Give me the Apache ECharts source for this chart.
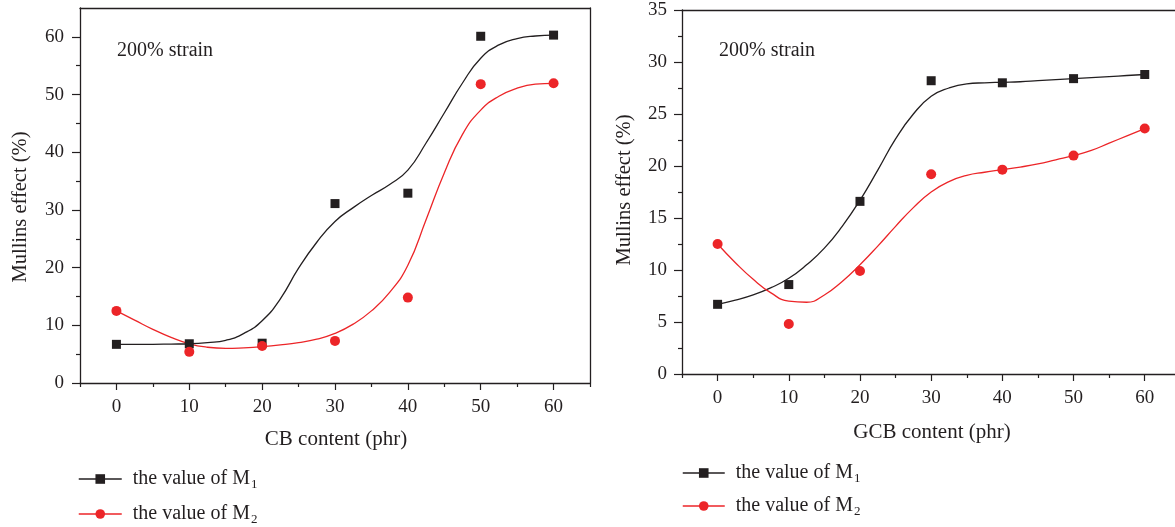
<!DOCTYPE html>
<html>
<head>
<meta charset="utf-8">
<script src="https://cdn.jsdelivr.net/npm/echarts@6/dist/echarts.min.js"></script>
<style>
  html, body { margin: 0; padding: 0; background: #fff; }
  #chart { width: 1175px; height: 527px; }
</style>
</head>
<body>
<div id="chart"></div>
<script>
// measured points (phr content vs Mullins effect %)
const content = [0, 10, 20, 30, 40, 50, 60];
const cbM1 = [6.7, 6.8, 6.9, 31.1, 32.9, 60.1, 60.3];
const cbM2 = [12.5, 5.4, 6.4, 7.3, 14.8, 51.8, 51.95];
const gcbM1 = [6.7, 8.6, 16.6, 28.2, 28.0, 28.4, 28.8];
const gcbM2 = [12.5, 4.8, 9.9, 19.2, 19.65, 21.0, 23.6];

// fitted curves, every 2.5 phr
const fitX = [0, 2.5, 5, 7.5, 10, 12.5, 15, 17.5, 20, 22.5, 25, 27.5, 30,
  32.5, 35, 37.5, 40, 42.5, 45, 47.5, 50, 52.5, 55, 57.5, 60];
const cbFitM1 = [6.7, 6.7, 6.7, 6.75, 6.8, 7.0, 7.4, 8.6, 10.8, 14.6, 19.9, 24.4, 28.0,
  30.4, 32.5, 34.4, 36.9, 41.6, 46.8, 52.0, 56.3, 58.6, 59.7, 60.15, 60.3];
const cbFitM2 = [12.5, 10.9, 9.3, 7.9, 6.8, 6.2, 6.0, 6.1, 6.3, 6.6, 7.0, 7.6, 8.6,
  10.2, 12.5, 15.7, 20.4, 28.3, 36.4, 43.1, 47.3, 49.7, 51.1, 51.8, 51.95];
const gcbFitM1 = [6.7, 7.1, 7.6, 8.3, 9.2, 10.5, 12.1, 14.2, 16.7, 19.6, 22.6, 25.0, 26.7,
  27.5, 27.9, 28.0, 28.05, 28.1, 28.2, 28.3, 28.4, 28.5, 28.6, 28.7, 28.8];
const gcbFitM2 = [12.5, 10.7, 9.1, 7.8, 7.0, 6.9, 7.6, 8.9, 10.5, 12.3, 14.2, 16.0, 17.5,
  18.5, 19.1, 19.4, 19.65, 19.9, 20.2, 20.6, 21.0, 21.5, 22.2, 22.9, 23.6];

// tick positions
const xMajor = [0, 10, 20, 30, 40, 50, 60];
const xMinor = [-5, 5, 15, 25, 35, 45, 55, 65];
const cbYMajor = [0, 10, 20, 30, 40, 50, 60];
const cbYMinor = [5, 15, 25, 35, 45, 55];
const gcbYMajor = [0, 5, 10, 15, 20, 25, 30, 35];
const gcbYMinor = [2.5, 7.5, 12.5, 17.5, 22.5, 27.5, 32.5];

const nameM1 = 'the value of M1';
const nameM2 = 'the value of M2';

const ink = '#231f20';
const red = '#ec2528';
const font = 'Liberation Serif';

const pairs = (xs, ys) => xs.map((x, i) => [x, ys[i]]);

let myChart = echarts.init(document.getElementById('chart'));

function mainX(grid, min, max) {
  return {
    type: 'value', gridIndex: grid, min: min, max: max, position: 'bottom',
    axisLine: { show: true, onZero: false, lineStyle: { color: ink, width: 1.3 } },
    axisTick: { show: true, length: 7, customValues: xMajor, lineStyle: { color: ink, width: 1.2 } },
    axisLabel: { customValues: xMajor, margin: 15, color: ink, fontSize: 19, fontFamily: font },
    splitLine: { show: false }
  };
}
function minorX(grid, min, max) {
  return {
    type: 'value', gridIndex: grid, min: min, max: max, position: 'bottom',
    axisLine: { show: false, onZero: false },
    axisTick: { show: true, length: 4, customValues: xMinor.filter(v => v <= max), lineStyle: { color: ink, width: 1.2 } },
    axisLabel: { show: false },
    splitLine: { show: false }
  };
}
function frameX(grid, min, max) {
  return {
    type: 'value', gridIndex: grid, min: min, max: max, position: 'top',
    axisLine: { show: true, onZero: false, lineStyle: { color: ink, width: 1.3 } },
    axisTick: { show: false }, axisLabel: { show: false }, splitLine: { show: false }
  };
}
function mainY(grid, min, max, labels, margin) {
  return {
    type: 'value', gridIndex: grid, min: min, max: max, position: 'left',
    axisLine: { show: true, onZero: false, lineStyle: { color: ink, width: 1.3 } },
    axisTick: { show: true, length: 8, customValues: labels, lineStyle: { color: ink, width: 1.2 } },
    axisLabel: { customValues: labels, margin: margin, color: ink, fontSize: 19, fontFamily: font },
    splitLine: { show: false }
  };
}
function minorY(grid, min, max, ticks) {
  return {
    type: 'value', gridIndex: grid, min: min, max: max, position: 'left',
    axisLine: { show: false, onZero: false },
    axisTick: { show: true, length: 4, customValues: ticks, lineStyle: { color: ink, width: 1.2 } },
    axisLabel: { show: false },
    splitLine: { show: false }
  };
}

function pointSeries(name, data, xi, yi, isM1) {
  return {
    name: name, type: 'line', xAxisIndex: xi, yAxisIndex: yi, data: data,
    symbol: isM1 ? 'rect' : 'circle', symbolSize: isM1 ? 9 : 10, showSymbol: true,
    itemStyle: { color: isM1 ? ink : red },
    lineStyle: { opacity: 0, color: isM1 ? ink : red },
    z: 5, animation: false, emphasis: { disabled: true }
  };
}
function fitSeries(data, xi, yi, color) {
  return {
    name: 'fit', type: 'line', xAxisIndex: xi, yAxisIndex: yi, data: data,
    smooth: 0.5, showSymbol: false, symbol: 'none',
    lineStyle: { color: color, width: 1.3 },
    z: 3, animation: false, silent: true
  };
}

// one legend per row so each can sit where the picture has it
function legendRow(name, left, top, width) {
  return {
    orient: 'horizontal', left: left, top: top, padding: 0,
    itemWidth: width, itemHeight: 12,
    data: [name],
    lineStyle: { width: 1.5, opacity: 1 },
    formatter: n => '{a|the value of M}{s|' + n.slice(-1) + '}',
    textStyle: {
      color: ink, fontFamily: font, padding: [0, 0, 0, 6],
      rich: {
        a: { fontSize: 20, fontFamily: font, color: ink },
        s: { fontSize: 13, fontFamily: font, color: ink, padding: [12, 0, 0, 1] }
      }
    },
    selectedMode: false
  };
}

const titleStyle = (size) => ({ fill: ink, font: size + 'px "' + font + '"', textAlign: 'center', textVerticalAlign: 'middle' });

let option = {
  backgroundColor: '#fff',
  animation: false,
  title: [
    { text: '200% strain', left: 117, top: 41, padding: 0, textStyle: { fontSize: 20, fontWeight: 'normal', color: ink, fontFamily: font } },
    { text: '200% strain', left: 719, top: 41, padding: 0, textStyle: { fontSize: 20, fontWeight: 'normal', color: ink, fontFamily: font } }
  ],
  grid: [
    { left: 80, top: 8, width: 510, height: 375 },
    { left: 682, top: 10, right: 0, height: 364 }
  ],
  xAxis: [
    mainX(0, -5, 65), minorX(0, -5, 65), frameX(0, -5, 65),
    mainX(1, -5, 64.25), minorX(1, -5, 64.25), frameX(1, -5, 64.25)
  ],
  yAxis: [
    mainY(0, 0, 65, cbYMajor, 16), minorY(0, 0, 65, cbYMinor),
    {
      type: 'value', gridIndex: 0, min: 0, max: 65, position: 'right',
      axisLine: { show: true, onZero: false, lineStyle: { color: ink, width: 1.3 } },
      axisTick: { show: false }, axisLabel: { show: false }, splitLine: { show: false }
    },
    mainY(1, 0, 35, gcbYMajor, 15), minorY(1, 0, 35, gcbYMinor)
  ],
  legend: [
    legendRow(nameM1, 78, 469, 43), legendRow(nameM2, 78, 504, 43),
    legendRow(nameM1, 682, 463, 42), legendRow(nameM2, 682, 496, 42)
  ],
  graphic: [
    { type: 'text', x: 21, y: 207, rotation: Math.PI / 2, style: Object.assign({ text: 'Mullins effect (%)' }, titleStyle(20.5)) },
    { type: 'text', x: 625, y: 190, rotation: Math.PI / 2, style: Object.assign({ text: 'Mullins effect (%)' }, titleStyle(20.5)) },
    { type: 'text', x: 336, y: 439, style: Object.assign({ text: 'CB content (phr)' }, titleStyle(21)) },
    { type: 'text', x: 932, y: 432, style: Object.assign({ text: 'GCB content (phr)' }, titleStyle(21)) }
  ],
  series: [
    fitSeries(pairs(fitX, cbFitM1), 0, 0, ink),
    fitSeries(pairs(fitX, cbFitM2), 0, 0, red),
    pointSeries(nameM1, pairs(content, cbM1), 0, 0, true),
    pointSeries(nameM2, pairs(content, cbM2), 0, 0, false),
    fitSeries(pairs(fitX, gcbFitM1), 3, 3, ink),
    fitSeries(pairs(fitX, gcbFitM2), 3, 3, red),
    pointSeries(nameM1, pairs(content, gcbM1), 3, 3, true),
    pointSeries(nameM2, pairs(content, gcbM2), 3, 3, false)
  ]
};

myChart.setOption(option, true);
window.addEventListener('resize', () => {
  myChart.resize();
});
</script>
</body>
</html>
